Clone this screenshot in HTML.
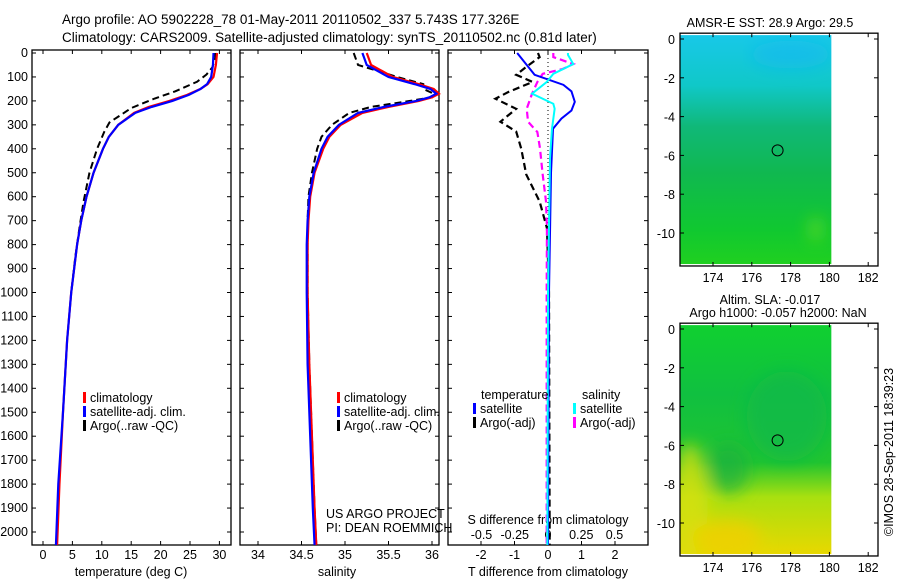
<!DOCTYPE html>
<html><head><meta charset="utf-8"><style>
html,body{margin:0;padding:0;background:#fff;}
svg{display:block;font-family:"Liberation Sans",sans-serif;}
text{font-size:12.5px;fill:#000;}
</style></head><body>
<svg id="chart" width="900" height="580" viewBox="0 0 900 580" xmlns="http://www.w3.org/2000/svg">
<text x="62" y="24" style="font-size:13.5px">Argo profile: AO 5902228_78 01-May-2011 20110502_337 5.743S 177.326E</text>
<text x="62" y="42" style="font-size:13.5px">Climatology: CARS2009. Satellite-adjusted climatology: synTS_20110502.nc (0.81d later)</text>
<text x="893" y="452" transform="rotate(-90 893 452)" text-anchor="middle">©IMOS 28-Sep-2011 18:39:23</text>
<g id="g"></g>
</svg>
<script>
// depth grids and values
const tDepths=[0,50,100,130,150,175,200,225,250,300,350,400,500,600,700,800,1000,1200,1500,1800,2054];
const tClim=[29.6,29.4,29.0,28.0,26.8,24.5,21.5,18.0,15.5,12.8,11.2,10.2,8.6,7.4,6.5,5.8,4.8,4.1,3.4,2.8,2.4];
const tSat=[29.0,28.9,28.6,27.9,26.8,24.8,22.0,18.5,15.7,12.8,11.2,10.2,8.6,7.4,6.5,5.8,4.8,4.1,3.4,2.6,2.2];
const aDepths=[0,20,60,90,120,160,190,230,290,330,400,500,620,730,850,1000];
const tArgo=[29.3,29.3,28.8,27.8,26.2,22.5,19.0,15.0,11.3,10.4,9.2,7.9,6.9,6.2,5.5,4.8];
const sDepths=[0,50,100,130,150,170,185,200,225,250,300,350,400,500,600,700,800,1000,1300,1600,1900,2054];
const sClim=[35.25,35.3,35.55,35.85,36.02,36.08,36.0,35.85,35.5,35.2,34.95,34.82,34.75,34.65,34.6,34.58,34.57,34.57,34.59,34.62,34.65,34.67];
const sSat=[35.2,35.25,35.5,35.8,35.98,36.05,35.97,35.82,35.45,35.15,34.93,34.8,34.73,34.64,34.59,34.57,34.56,34.56,34.57,34.6,34.63,34.65];
const sArgo=[35.1,35.15,35.6,35.9,35.9,36.02,36.0,35.75,35.3,35.05,34.85,34.73,34.68,34.62,34.58,34.57,34.57,34.57,34.59,34.62,34.65,34.67];
const dtSatD=[0,91,133,160,204,240,274,316,500,1000,2054];
const dtSat=[-0.92,-0.4,0.46,0.7,0.8,0.7,0.4,0.15,0.09,0.03,0.0];
const dtArgoD=[0,17,58,91,121,162,191,233,287,328,399,507,620,732,1000,2054];
const dtArgo=[-0.3,-0.25,-0.65,-0.95,-0.46,-1.17,-1.57,-0.95,-1.42,-0.95,-0.8,-0.65,-0.25,-0.03,0.03,0.05];
const dsSatD=[0,8,46,87,121,170,212,233,316,441,1000,2054];
const dsSat=[0.15,0.15,0.19,0.04,-0.01,-0.12,0.04,0.05,0.03,0.015,0.0,-0.005];
const dsArgoD=[0,17,46,67,87,121,170,233,287,330,399,507,620,732,1000,2054];
const dsArgo=[0.04,0.04,0.19,0.11,-0.04,-0.08,-0.12,-0.16,-0.15,-0.08,-0.06,-0.04,-0.015,-0.008,-0.01,-0.01];
const depthTicks=[0,100,200,300,400,500,600,700,800,900,1000,1100,1200,1300,1400,1500,1600,1700,1800,1900,2000];
const tTicks=[0,5,10,15,20,25,30];
const sTicks=[34,34.5,35,35.5,36];
const dtTicks=[-2,-1,0,1,2];
const dsTicks=[-0.5,-0.25,0,0.25,0.5];
const dsTickLabels=["-0.5","-0.25","0","0.25","0.5"];
const lonTicks=[174,176,178,180,182];
const latTicks=[0,-2,-4,-6,-8,-10];
const latLabels=["0","-2","-4","-6","-8","-10"];

const NS='http://www.w3.org/2000/svg';
const G=document.getElementById('g');
function el(tag,attrs,parent){const e=document.createElementNS(NS,tag);for(const k in attrs)e.setAttribute(k,attrs[k]);(parent||G).appendChild(e);return e;}
const TOP=50,BOT=545;
const yD=d=>53+d*0.2395;
const xT=v=>43+v*5.88;
const xS=v=>258+(v-34)*87;
const xDT=v=>548+v*33.5;
const xDS=v=>548+v*133;

function frame(x0,x1,name){
  const r=el('rect',{x:x0,y:TOP,width:x1-x0,height:BOT-TOP,fill:'none',stroke:'#000','stroke-width':1.3});
  
  
  depthTicks.forEach(d=>{el('line',{x1:x0,x2:x0+4,y1:yD(d),y2:yD(d),stroke:'#000'});el('line',{x1:x1,x2:x1-4,y1:yD(d),y2:yD(d),stroke:'#000'});});
}
function xticks(ticks,fx,labels,name){
  ticks.forEach((t,i)=>{const x=fx(t);
    el('line',{x1:x,x2:x,y1:BOT,y2:BOT-4,stroke:'#000'});el('line',{x1:x,x2:x,y1:TOP,y2:TOP+4,stroke:'#000'});
    const tx=el('text',{x:x,y:559,'text-anchor':'middle'});tx.textContent=labels?labels[i]:String(t);
    
    
  });
}
function line(ds,vs,fx,color,w,dash,name){
  const p=el('polyline',{points:ds.map((d,i)=>fx(vs[i])+','+yD(d)).join(' '),fill:'none',stroke:color,'stroke-width':w});
  if(dash)p.setAttribute('stroke-dasharray',dash);
  
  
}
function txt(x,y,s,name,anchor){const t=el('text',{x:x,y:y,'text-anchor':anchor||'start'});t.textContent=s;
  
  return t;}
function legend(x,y,items){items.forEach((it,i)=>{el('rect',{x:x,y:y+i*14-10,width:3,height:11,fill:it[1]});txt(x+7,y+i*14,it[0],'legend-entry');});}

// panel 1
frame(32,231,'temperature-panel');
depthTicks.forEach(d=>{txt(28,yD(d)+4,String(d),'depth-tick-label','end');});
xticks(tTicks,xT,null,'temperature-tick-label');
txt(131,576,'temperature (deg C)','temperature-axis-title','middle');
line(aDepths,tArgo,xT,'#000',2,'7,4','temperature-argo');
line(tDepths,tClim,xT,'#f00',2.2,null,'temperature-climatology');
line(tDepths,tSat,xT,'#00f',2.2,null,'temperature-satellite');
legend(83,402,[['climatology','#f00'],['satellite-adj. clim.','#00f'],['Argo(..raw -QC)','#000']]);

// panel 2
frame(240,439,'salinity-panel');
xticks(sTicks,xS,null,'salinity-tick-label');
txt(337,576,'salinity','salinity-axis-title','middle');
line(sDepths,sArgo,xS,'#000',2,'7,4','salinity-argo');
line(sDepths,sClim,xS,'#f00',2.2,null,'salinity-climatology');
line(sDepths,sSat,xS,'#00f',2.2,null,'salinity-satellite');
legend(337,402,[['climatology','#f00'],['satellite-adj. clim.','#00f'],['Argo(..raw -QC)','#000']]);
txt(326,518,'US ARGO PROJECT','credit-project');
txt(326,532,'PI: DEAN ROEMMICH','credit-pi');

// panel 3
frame(448,648,'difference-panel');
xticks(dtTicks,xDT,null,'t-diff-tick-label');
dsTicks.forEach((t,i)=>{txt(xDS(t),539,dsTickLabels[i],'s-diff-tick-label','middle');});
txt(548,524,'S difference from climatology','s-diff-axis-title','middle');
txt(548,576,'T difference from climatology','t-diff-axis-title','middle');
el('line',{x1:548,x2:548,y1:TOP,y2:BOT,stroke:'#000','stroke-dasharray':'1,3'});
line(dtArgoD,dtArgo,xDT,'#000',2.2,'7,4','t-diff-argo');
line(dsArgoD,dsArgo,xDS,'#f0f',2.2,'7,4','s-diff-argo');
line(dtSatD,dtSat,xDT,'#00f',2,null,'t-diff-satellite');
line(dsSatD,dsSat,xDS,'#0ff',2,null,'s-diff-satellite');
txt(481,399,'temperature','legend-title-temperature');
txt(582,399,'salinity','legend-title-salinity');
legend(473,413,[['satellite','#00f'],['Argo(-adj)','#000']]);
legend(573,413,[['satellite','#0ff'],['Argo(-adj)','#f0f']]);

// maps
const xLon=v=>713+(v-174)*19.4;
function map(y0,name,stops,blobs){
  const yLat=v=>y0-v*19.4;
  const gid='g'+name;
  const defs=el('defs',{});
  const lg=el('linearGradient',{id:gid,x1:0,y1:0,x2:0,y2:1},defs);
  stops.forEach(s=>el('stop',{offset:s[0],'stop-color':s[1]},lg));
  const flt=el('filter',{id:'b'+name},defs);
  el('feGaussianBlur',{stdDeviation:8},flt);
  const fx=xLon(172.3),fw=xLon(180.1)-fx;
  const f=el('rect',{x:fx,y:yLat(0.2),width:fw,height:yLat(-11.6)-yLat(0.2),fill:'url(#'+gid+')'});
  
  
  const cp=el('clipPath',{id:'c'+name},defs);
  el('rect',{x:fx,y:yLat(0.2),width:fw,height:yLat(-11.6)-yLat(0.2)},cp);
  const bg=el('g',{'clip-path':'url(#c'+name+')',filter:'url(#b'+name+')'});
  blobs.forEach(b=>el('ellipse',{cx:xLon(b[0]),cy:yLat(b[1]),rx:b[2],ry:b[3],fill:b[4],opacity:b[5]},bg));
  const c=el('circle',{cx:xLon(177.33),cy:yLat(-5.74),r:5.5,fill:'none',stroke:'#000','stroke-width':1});
  
  
  const r=el('rect',{x:680,y:yLat(0.3),width:198,height:yLat(-11.7)-yLat(0.3),fill:'none',stroke:'#000','stroke-width':1.3});
  
  
  lonTicks.forEach(t=>{const x=xLon(t);el('line',{x1:x,x2:x,y1:yLat(-11.7),y2:yLat(-11.7)-4,stroke:'#000'});el('line',{x1:x,x2:x,y1:yLat(0.3),y2:yLat(0.3)+4,stroke:'#000'});
    txt(x,yLat(-11.7)+16,String(t),'longitude-tick-label','middle');});
  latTicks.forEach((t,i)=>{const y=yLat(t);el('line',{x1:680,x2:684,y1:y,y2:y,stroke:'#000'});el('line',{x1:878,x2:874,y1:y,y2:y,stroke:'#000'});
    txt(675,y+5,latLabels[i],'latitude-tick-label','end');});
}
map(39,'sst-map',[[0,'#18c8e8'],[0.22,'#10c8c8'],[0.4,'#10b878'],[0.6,'#10b850'],[0.85,'#10c830'],[1,'#20d020']],
  [[178,-0.8,40,14,'#10b8f0',0.6],[179.3,-9.8,6,12,'#80e020',0.7]]);
txt(770,27,'AMSR-E SST: 28.9  Argo: 29.5','sst-map-title','middle');
map(329,'sla-map',[[0,'#10d030'],[0.3,'#10c040'],[0.6,'#20c430'],[0.75,'#a8e010'],[1,'#e8d800']],
  [[177.8,-4.5,40,45,'#10b848',0.7],[174.8,-7.2,20,25,'#18b040',0.7],[172.8,-9,18,60,'#d8e010',0.8],[174.7,-10.8,35,18,'#f0d000',0.8]]);
txt(770,304,'Altim. SLA: -0.017','sla-map-title-1','middle');
txt(778,317,'Argo h1000: -0.057 h2000: NaN','sla-map-title-2','middle');
</script>
</body></html>
